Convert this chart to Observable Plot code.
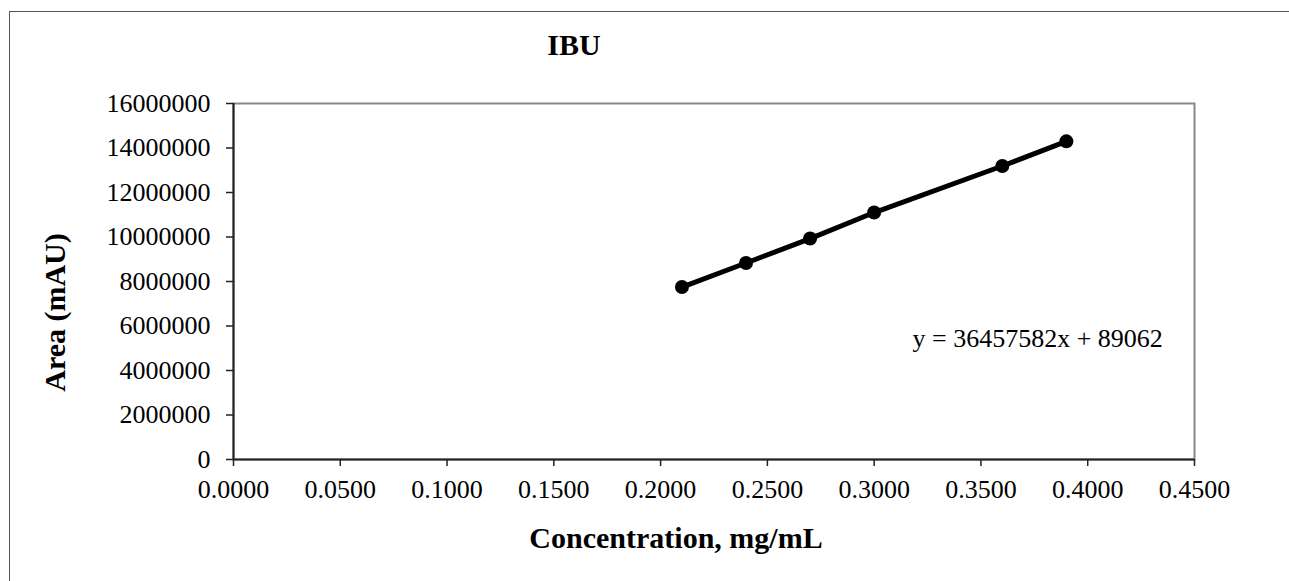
<!DOCTYPE html>
<html>
<head>
<meta charset="utf-8">
<script src="https://cdn.jsdelivr.net/npm/d3@7"></script>
<script src="https://cdn.jsdelivr.net/npm/@observablehq/plot@0.6"></script>
<style>
  html, body { margin: 0; padding: 0; background: #fff; overflow: hidden; }
  #wrap { position: relative; width: 1289px; height: 581px; }
  #border { position: absolute; left: 9px; top: 11px; width: 1300px; height: 600px;
            border-left: 1.5px solid #555; border-top: 1.5px solid #555; box-sizing: border-box; }
  #chart { position: absolute; left: 0; top: 0; }
</style>
</head>
<body>
<div id="wrap"><div id="border"></div><div id="chart"></div></div>
<script>
const title = "IBU";
const xLabel = "Concentration, mg/mL";
const yLabel = "Area (mAU)";
const equation = "y = 36457582x + 89062";
const concentration = [0.21, 0.24, 0.27, 0.30, 0.36, 0.39];
const area = [7750000, 8830000, 9930000, 11100000, 13190000, 14300000];
const xTicks = [0, 0.05, 0.1, 0.15, 0.2, 0.25, 0.3, 0.35, 0.4, 0.45];
const yTicks = [0, 2000000, 4000000, 6000000, 8000000, 10000000, 12000000, 14000000, 16000000];

const data = concentration.map((c, i) => ({c, a: area[i]}));

const chart = Plot.plot({
  width: 1289,
  height: 581,
  marginLeft: 233,
  marginRight: 95,
  marginTop: 103,
  marginBottom: 122,
  style: {fontFamily: "'Liberation Serif', 'Times New Roman', serif", fontSize: "26px", color: "#000", background: "transparent"},
  x: {domain: [0, 0.45]},
  y: {domain: [0, 16000000]},
  marks: [
    Plot.frame({stroke: "#888", strokeWidth: 2}),
    Plot.axisX({ticks: xTicks, tickFormat: d3.format(".4f"), tickSize: 7, tickPadding: 13, label: null, stroke: "#222", strokeWidth: 1.5}),
    Plot.axisY({ticks: yTicks, tickFormat: d => String(d), tickSize: 7, tickPadding: 16, label: null, stroke: "#222", strokeWidth: 1.5}),
    Plot.ruleX([0], {stroke: "#222", strokeWidth: 2}),
    Plot.ruleY([0], {stroke: "#222", strokeWidth: 2}),
    Plot.line(data, {x: "c", y: "a", stroke: "#000", strokeWidth: 5}),
    Plot.dot(data, {x: "c", y: "a", r: 7, fill: "#000", stroke: "none"}),
    Plot.text([equation], {text: d => d, frameAnchor: "top-left", textAnchor: "start", lineAnchor: "middle", dx: 679, dy: 235, fontSize: 26}),
    Plot.text([title], {text: d => d, frameAnchor: "top", textAnchor: "middle", lineAnchor: "middle", dx: -140, dy: -58, fontSize: 30, fontWeight: "bold"}),
    Plot.text([xLabel], {text: d => d, frameAnchor: "bottom", textAnchor: "middle", lineAnchor: "middle", dx: -38, dy: 79, fontSize: 30, fontWeight: "bold"}),
    Plot.text([yLabel], {text: d => d, frameAnchor: "left", textAnchor: "middle", lineAnchor: "middle", rotate: -90, dx: -178, dy: 31, fontSize: 30, fontWeight: "bold"})
  ]
});
document.getElementById("chart").appendChild(chart);
</script>
</body>
</html>
